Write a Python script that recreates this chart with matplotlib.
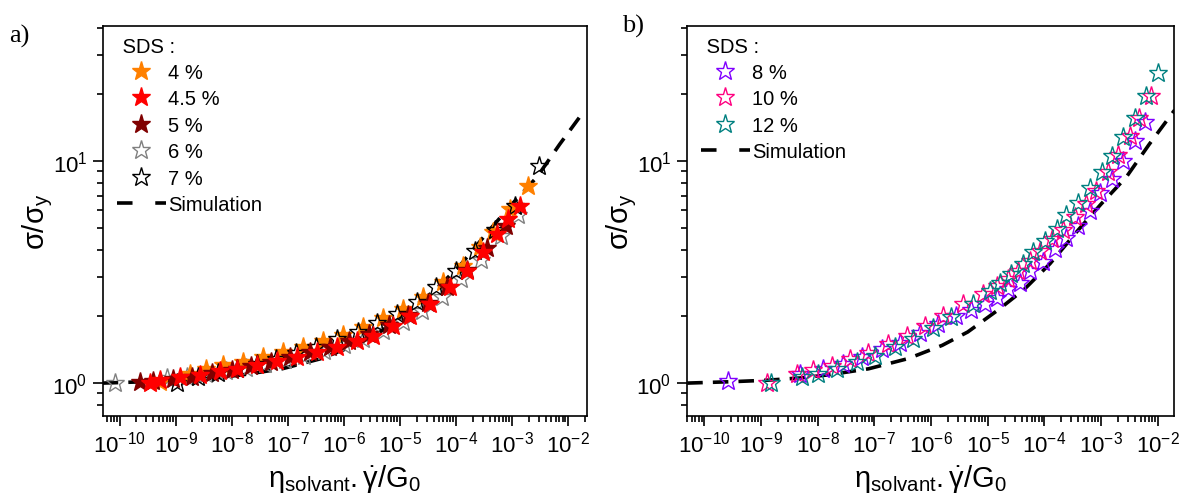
import numpy as np
import matplotlib
matplotlib.use("Agg")
import matplotlib.pyplot as plt
from matplotlib.lines import Line2D
from matplotlib.ticker import LogLocator, LogFormatterMathtext, NullFormatter

plt.rcParams['font.family'] = ['Liberation Sans', 'DejaVu Sans']
plt.rcParams['mathtext.fontset'] = 'custom'
plt.rcParams['mathtext.rm'] = 'Liberation Sans'
plt.rcParams['mathtext.it'] = 'Liberation Sans:italic'
plt.rcParams['mathtext.bf'] = 'Liberation Sans:bold'

# ---- data (x given as log10 exponents, y = sigma/sigma_y) ----
sim_logx = [-10.3, -9.5, -8.9, -8.3, -7.8, -7.1, -6.4, -5.8, -5.35, -4.8, -4.35, -3.9, -3.4, -3.0, -2.55, -2.15, -1.7]
sim_y = [1.0, 1.015, 1.03, 1.055, 1.09, 1.16, 1.29, 1.48, 1.70, 2.15, 2.65, 3.45, 4.9, 6.4, 8.5, 11.9, 17.0]

# panel a)
sds4_logx = [-9.27, -8.74, -8.45, -8.15, -7.79, -7.44, -7.08, -6.72, -6.37, -6.01, -5.66, -5.30,
             -4.94, -4.59, -4.23, -3.88, -3.57, -3.34, -3.03, -2.71]
sds4_y = [1.01, 1.10, 1.16, 1.21, 1.25, 1.31, 1.38, 1.46, 1.54, 1.65, 1.79, 1.96,
          2.15, 2.45, 2.85, 3.36, 4.10, 4.80, 6.1, 7.7]

sds45_logx = [-9.45, -9.27, -8.92, -8.56, -8.21, -7.90, -7.55, -7.19, -6.83, -6.48, -6.12, -5.77,
              -5.48, -5.12, -4.82, -4.46, -4.10, -3.80, -3.52, -3.27, -3.07, -2.86]
sds45_y = [1.0, 1.03, 1.07, 1.09, 1.13, 1.16, 1.21, 1.26, 1.31, 1.38, 1.45, 1.55,
           1.63, 1.80, 2.0, 2.27, 2.71, 3.20, 3.89, 4.69, 5.48, 6.27]

sds5_logx = [-9.63, -9.40, -9.05, -8.70, -8.35, -8.0, -7.65, -7.3, -6.95, -6.6, -6.25, -5.9,
             -5.55, -5.2, -4.85, -4.5, -4.15, -3.8, -3.45, -3.1]
sds5_y = [1.01, 1.02, 1.04, 1.07, 1.11, 1.15, 1.20, 1.25, 1.31, 1.38, 1.45, 1.55,
          1.66, 1.82, 2.03, 2.30, 2.70, 3.25, 4.05, 5.1]

sds6_logx = [-10.08, -9.15, -8.8, -8.45, -8.1, -7.75, -7.4, -7.05, -6.7, -6.35, -6.0, -5.65,
             -5.3, -4.95, -4.6, -4.25, -3.9, -3.55, -3.2, -2.9]
sds6_y = [1.0, 1.05, 1.07, 1.10, 1.13, 1.17, 1.22, 1.27, 1.33, 1.40, 1.48, 1.58,
          1.71, 1.88, 2.12, 2.45, 2.95, 3.6, 4.6, 5.7]

sds7_logx = [-8.97, -8.6, -8.25, -7.9, -7.55, -7.2, -6.85, -6.5, -6.12, -5.75, -5.4, -5.05,
             -4.7, -4.35, -4.0, -3.65, -3.3, -2.95, -2.52]
sds7_y = [1.0, 1.06, 1.11, 1.16, 1.22, 1.29, 1.37, 1.46, 1.58, 1.70, 1.86, 2.05,
          2.33, 2.72, 3.2, 3.95, 4.9, 6.3, 9.5]

# panel b)
sds8_logx = [-9.58, -8.31, -7.90, -7.55, -7.22, -6.87, -6.55, -6.20, -5.87, -5.55, -5.30, -5.05,
             -4.84, -4.64, -4.43, -4.26, -4.02, -3.81, -3.61, -3.40, -3.20, -3.02, -2.81, -2.61,
             -2.40, -2.22]
sds8_y = [1.02, 1.10, 1.16, 1.22, 1.31, 1.42, 1.52, 1.69, 1.84, 2.01, 2.13, 2.27,
          2.43, 2.65, 2.84, 3.20, 3.50, 4.01, 4.53, 5.11, 5.98, 7.2, 8.3, 10.0,
          12.3, 15.0]

sds10_logx = [-8.90, -8.37, -8.08, -7.75, -7.43, -7.11, -6.75, -6.43, -6.11, -5.78, -5.43, -5.08,
              -4.84, -4.64, -4.46, -4.26, -4.08, -3.87, -3.67, -3.46, -3.26, -3.08, -2.87, -2.70,
              -2.49, -2.32, -2.11]
sds10_y = [1.0, 1.10, 1.14, 1.20, 1.28, 1.37, 1.50, 1.63, 1.81, 2.01, 2.27, 2.52,
           2.74, 2.94, 3.2, 3.55, 3.94, 4.45, 4.9, 5.6, 6.4, 7.35, 8.9, 10.7,
           13.0, 15.7, 19.7]

sds12_logx = [-8.82, -8.28, -7.99, -7.66, -7.31, -6.99, -6.64, -6.31, -5.96, -5.64, -5.26, -4.96,
              -4.78, -4.58, -4.37, -4.20, -3.99, -3.78, -3.61, -3.40, -3.20, -2.99, -2.81, -2.61,
              -2.40, -2.20, -1.99]
sds12_y = [1.0, 1.06, 1.10, 1.16, 1.24, 1.33, 1.45, 1.58, 1.78, 1.98, 2.27, 2.61,
           2.84, 3.10, 3.44, 3.88, 4.38, 4.94, 5.7, 6.5, 7.6, 8.9, 10.6, 12.8,
           15.7, 19.7, 25.0]

def ex(v):
    return 10.0 ** np.array(v)

ms = 14
sim_style = dict(color='black', lw=2.6, dashes=(4.3, 2.8))

fig = plt.figure(figsize=(11.79, 5.02), dpi=100)
ax1 = fig.add_axes([0.0871, 0.1699, 0.4108, 0.7757])
ax2 = fig.add_axes([0.5824, 0.1699, 0.4134, 0.7757])

# panel a
ax1.plot(ex(sim_logx), sim_y, zorder=1, **sim_style)
ax1.plot(ex(sds6_logx), sds6_y, ls='none', marker='*', ms=ms, mfc='none', mec='#808080', mew=1.0, zorder=2)
ax1.plot(ex(sds4_logx), sds4_y, ls='none', marker='*', ms=ms, color='#FF8000', mec='#FF8000', zorder=3)
ax1.plot(ex(sds7_logx), sds7_y, ls='none', marker='*', ms=ms, mfc='none', mec='black', mew=1.0, zorder=4)
ax1.plot(ex(sds5_logx), sds5_y, ls='none', marker='*', ms=ms, color='#800000', mec='#800000', zorder=5)
ax1.plot(ex(sds45_logx), sds45_y, ls='none', marker='*', ms=ms, color='#FF0000', mec='#FF0000', zorder=6)

# panel b
ax2.plot(ex(sim_logx), sim_y, zorder=1, **sim_style)
ax2.plot(ex(sds8_logx), sds8_y, ls='none', marker='*', ms=ms, mfc='none', mec='#8000FF', mew=1.0, zorder=2)
ax2.plot(ex(sds10_logx), sds10_y, ls='none', marker='*', ms=ms, mfc='none', mec='#FF0080', mew=1.0, zorder=3)
ax2.plot(ex(sds12_logx), sds12_y, ls='none', marker='*', ms=ms, mfc='none', mec='#008080', mew=1.0, zorder=4)

xlims = [(10 ** -10.30, 10 ** -1.66), (10 ** -10.31, 10 ** -1.71)]
for ax, xl in zip([ax1, ax2], xlims):
    ax.set_xscale('log')
    ax.set_yscale('log')
    ax.set_xlim(*xl)
    ax.set_ylim(10 ** -0.147, 10 ** 1.608)
    ax.xaxis.set_major_locator(LogLocator(base=10, numticks=20))
    ax.xaxis.set_minor_locator(LogLocator(base=10, subs=np.arange(2, 10), numticks=200))
    ax.yaxis.set_major_locator(LogLocator(base=10, numticks=10))
    ax.yaxis.set_minor_locator(LogLocator(base=10, subs=np.arange(2, 10), numticks=50))
    ax.xaxis.set_major_formatter(LogFormatterMathtext())
    ax.yaxis.set_major_formatter(LogFormatterMathtext())
    ax.xaxis.set_minor_formatter(NullFormatter())
    ax.yaxis.set_minor_formatter(NullFormatter())
    ax.tick_params(which='both', direction='out', top=False, right=False, width=1.2, labelsize=16)
    ax.tick_params(which='major', length=7, pad=4)
    ax.tick_params(which='minor', length=4)
    for s in ax.spines.values():
        s.set_linewidth(1.2)
    ax.set_xlabel(r'$\mathregular{\eta_{solvant}.\dot{\gamma}/G_0}$', fontsize=21, labelpad=4)
    ax.set_ylabel(r'$\mathregular{\sigma/\sigma_y}$', fontsize=21, labelpad=-2)

def star(color, filled):
    if filled:
        return Line2D([], [], ls='none', marker='*', ms=ms, color=color, mec=color)
    return Line2D([], [], ls='none', marker='*', ms=ms, mfc='none', mec=color, mew=1.0)

sim_handle = Line2D([], [], color='black', lw=2.6, dashes=(4.3, 6.3))

leg_kw = dict(loc='upper left', bbox_to_anchor=(0.0, 1.01), frameon=False,
              title=' SDS :', alignment='left', fontsize=14.5, title_fontsize=14.5,
              handlelength=2.45, handletextpad=0.1, labelspacing=0.37, borderaxespad=0.3)

h1 = [star('#FF8000', True), star('#FF0000', True), star('#800000', True),
      star('#808080', False), star('black', False), sim_handle]
l1 = ['4 %', '4.5 %', '5 %', '6 %', '7 %', 'Simulation']
ax1.legend(h1, l1, **leg_kw)

h2 = [star('#8000FF', False), star('#FF0080', False), star('#008080', False), sim_handle]
l2 = ['8 %', '10 %', '12 %', 'Simulation']
ax2.legend(h2, l2, **leg_kw)

fig.text(0.008, 0.928, 'a)', family='Liberation Serif', fontsize=19, va='center')
fig.text(0.528, 0.948, 'b)', family='Liberation Serif', fontsize=19, va='center')

fig.savefig('out.png', dpi=100)
